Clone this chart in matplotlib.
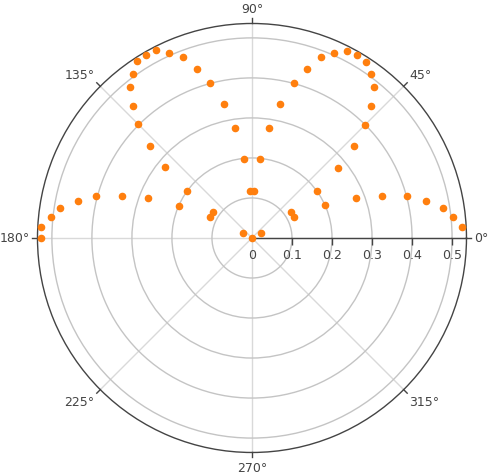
import numpy as np
import matplotlib
matplotlib.use('Agg')
import matplotlib.pyplot as plt

# angle in degrees and radius of each point
theta_deg = [3, 6, 9, 12, 15, 18, 21, 24, 27, 30,
             33, 36, 39, 42, 45, 48, 51, 54, 57, 60,
             63, 66, 69, 72, 75, 78, 81, 84, 87, 90,
             93, 96, 99, 102, 105, 108, 111, 114, 117, 120,
             123, 126, 129, 132, 135, 138, 141, 144, 147, 150,
             153, 156, 159, 162, 165, 168, 171, 174, 177, 180]
r_vals = [0.526, 0.505, 0.484, 0.444, 0.402, 0.341, 0.279, 0.200, 0.117, 0.025,
          0.117, 0.200, 0.278, 0.342, 0.401, 0.444, 0.485, 0.507, 0.525, 0.527,
          0.525, 0.506, 0.484, 0.445, 0.402, 0.341, 0.279, 0.199, 0.117, 0.0,
          0.117, 0.199, 0.279, 0.342, 0.402, 0.444, 0.484, 0.507, 0.526, 0.528,
          0.526, 0.507, 0.485, 0.445, 0.402, 0.342, 0.280, 0.200, 0.117, 0.025,
          0.117, 0.199, 0.279, 0.342, 0.403, 0.445, 0.485, 0.506, 0.527, 0.5275]

r_ticks = [0, 0.1, 0.2, 0.3, 0.4, 0.5]
angle_ticks = [0, 45, 90, 135, 180, 225, 270, 315]
r_max = 0.536

plt.rcParams['font.family'] = ['DejaVu Sans']
txt_color = '#444444'

fig = plt.figure(figsize=(4.9, 4.77), dpi=100)
ax = fig.add_axes([0.0765, 0.0493, 0.8755, 0.8994], projection='polar')

ax.scatter(np.deg2rad(theta_deg), r_vals, s=20, color='#ff7f0e', zorder=5, clip_on=False)

ax.set_ylim(0, r_max)
ax.set_yticks(r_ticks[1:])
ax.set_yticklabels([])
ax.set_xticks(np.deg2rad(angle_ticks))
ax.set_xticklabels([])

ax.xaxis.grid(True, color='#d9d9d9', linewidth=1)
ax.yaxis.grid(True, color='#c4c4c4', linewidth=1)
ax.spines['polar'].set_color(txt_color)
ax.spines['polar'].set_linewidth(1)

# angular ticks outside the circle with labels
tick_len = r_max * 5 / 214.5
for a in angle_ticks:
    t = np.deg2rad(a)
    ax.plot([t, t], [r_max, r_max + tick_len], color=txt_color, linewidth=1, clip_on=False)
    c, s = np.cos(t), np.sin(t)
    ha = 'left' if c > 0.1 else ('right' if c < -0.1 else 'center')
    va = 'bottom' if s > 0.1 else ('top' if s < -0.1 else 'center')
    ax.annotate(f'{a}°', xy=(t, r_max), xytext=(5.8 * c, 5.8 * s), textcoords='offset points',
                ha=ha, va=va, color=txt_color, fontsize=9)

# radial axis line along 0 degrees with tick marks and labels
ax.plot([0, 0], [0, r_max], color=txt_color, linewidth=1, zorder=3, clip_on=False)
ax.plot([0] * len(r_ticks[1:]), r_ticks[1:], ls='', marker=3, ms=5, mew=1,
        color=txt_color, zorder=3, clip_on=False)
for r in r_ticks:
    ax.annotate(f'{r:g}', xy=(0, r), xytext=(0, -12), textcoords='offset points',
                ha='center', va='center', color=txt_color, fontsize=9)

fig.savefig('out.png', dpi=100)
